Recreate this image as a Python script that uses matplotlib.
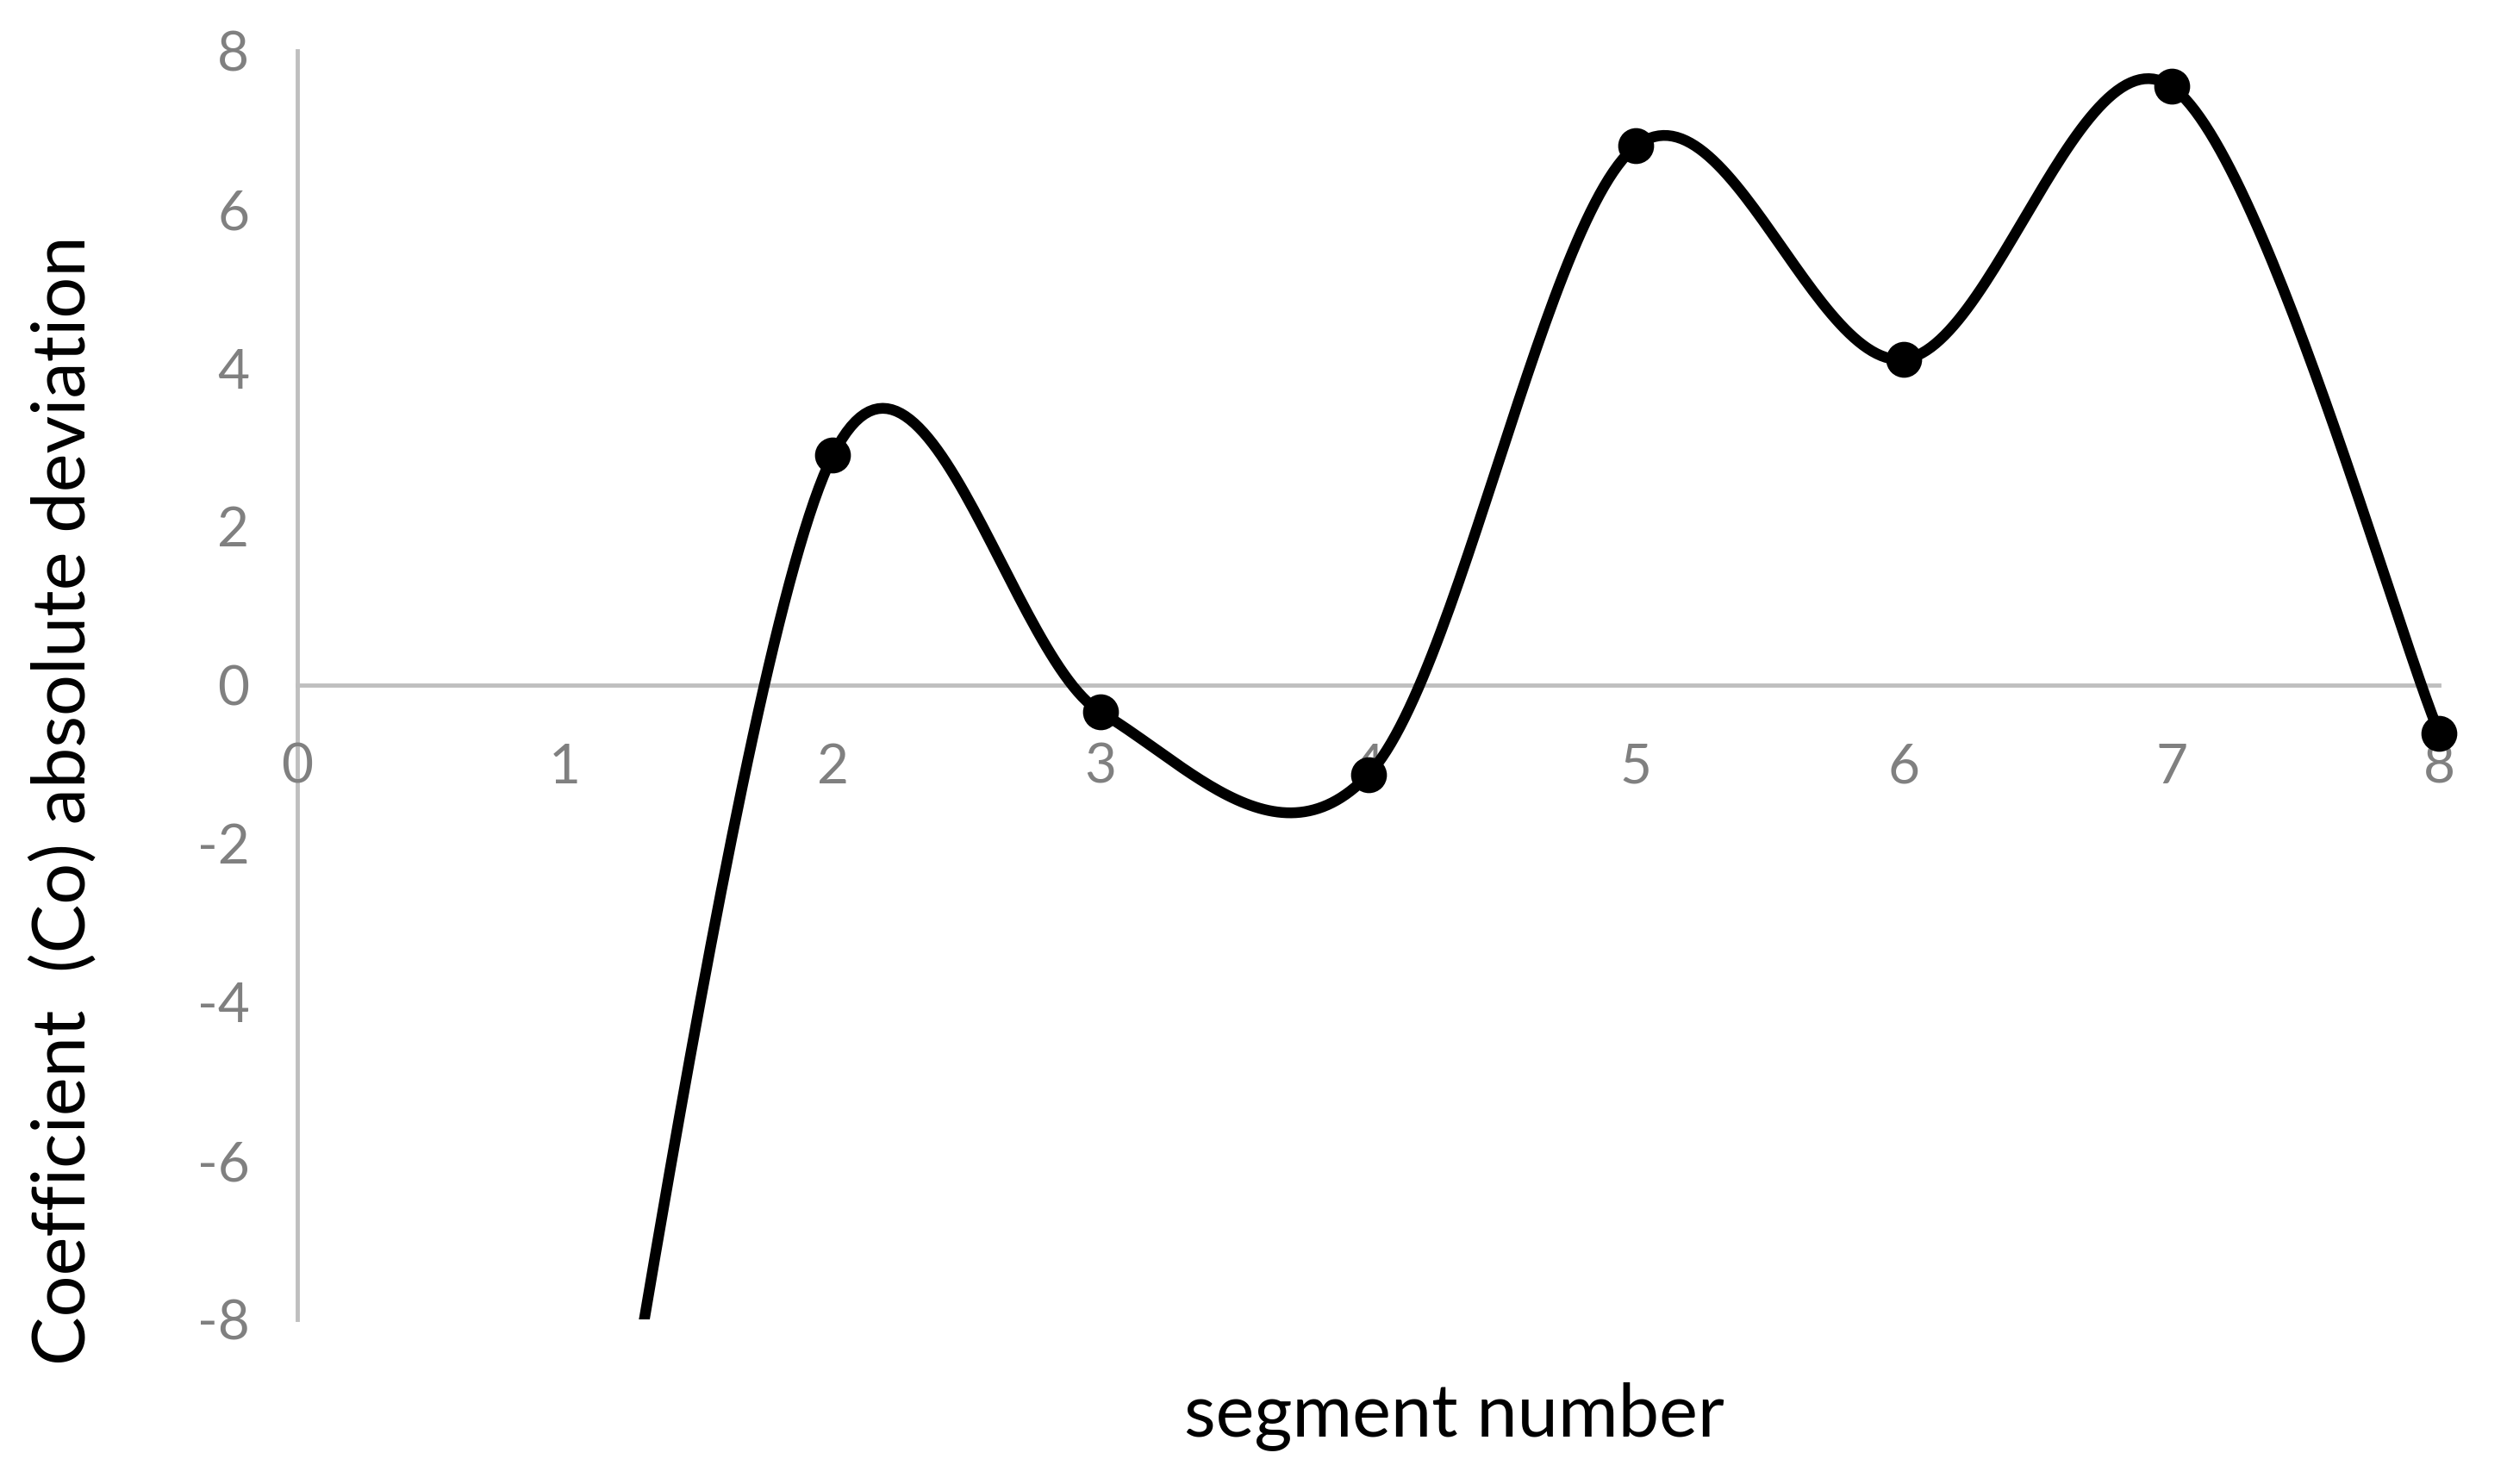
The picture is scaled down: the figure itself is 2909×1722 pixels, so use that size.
import numpy as np
import matplotlib.pyplot as plt

segments = [1, 2, 3, 4, 5, 6, 7, 8]
deviation = [-13.8, 2.9, -0.34, -1.13, 6.8, 4.11, 7.55, -0.61]
x_ticks = [0, 1, 2, 3, 4, 5, 6, 7, 8]
y_ticks = [-8, -6, -4, -2, 0, 2, 4, 6, 8]

plt.rcParams['font.family'] = ['Lato', 'DejaVu Sans']
plt.rcParams['axes.unicode_minus'] = False


def smooth(xs, ys, n=60):
    # excel-like smoothed line: bezier segments with catmull-rom control points
    pts = np.column_stack([xs, ys]).astype(float)
    out = []
    for i in range(len(pts) - 1):
        p0 = pts[max(i - 1, 0)]
        p1 = pts[i]
        p2 = pts[i + 1]
        p3 = pts[min(i + 2, len(pts) - 1)]
        c1 = p1 + (p2 - p0) / 6
        c2 = p2 - (p3 - p1) / 6
        t = np.linspace(0, 1, n)[:, None]
        seg = ((1 - t) ** 3) * p1 + 3 * ((1 - t) ** 2) * t * c1 \
            + 3 * (1 - t) * t ** 2 * c2 + t ** 3 * p2
        out.append(seg if i == 0 else seg[1:])
    out = np.vstack(out)
    return out[:, 0], out[:, 1]


fig = plt.figure(figsize=(29.09, 17.22), dpi=100)
ax = fig.add_axes([0.1186, 0.111, 0.973 - 0.1186, 0.9657 - 0.111])

sx, sy = smooth(segments, deviation)
ax.plot(sx, sy, color='black', lw=9, solid_capstyle='butt', zorder=2)

xs = np.array(segments)
ys = np.array(deviation)
vis = ys >= y_ticks[0]
ax.plot(xs[vis], ys[vis], 'o', color='black', ms=29, clip_on=False, zorder=2)

ax.set_xlim(0, 8)
ax.set_ylim(-8, 8)
ax.set_xticks(x_ticks)
ax.set_yticks(y_ticks)

for s in ['top', 'right']:
    ax.spines[s].set_visible(False)
ax.spines['bottom'].set_position(('data', 0))
for s in ['left', 'bottom']:
    ax.spines[s].set_color('#bfbfbf')
    ax.spines[s].set_linewidth(3.5)
    ax.spines[s].set_zorder(1)

ax.tick_params(axis='x', length=0, pad=48, labelsize=46, labelcolor='#808080')
ax.tick_params(axis='y', length=0, pad=40, labelsize=46, labelcolor='#808080')

fig.text(0.58, 0.046, 'segment number', ha='center', va='center', fontsize=61)
fig.text(0.0255, 0.4605, 'Coefficient  (Co) absolute deviation', ha='center', va='center',
         rotation=90, fontsize=61)

plt.savefig('out.png', dpi=100)
